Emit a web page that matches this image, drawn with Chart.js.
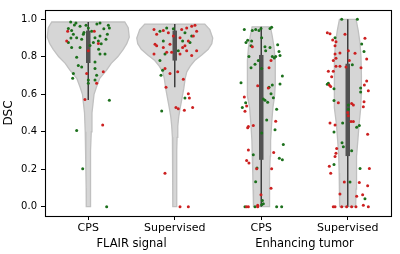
<!DOCTYPE html>
<html><head><meta charset="utf-8">
<script src="https://cdn.jsdelivr.net/npm/chart.js@4.4.0/dist/chart.umd.min.js"></script>
<style>html,body{margin:0;padding:0;background:#fff;}#wrap{width:400px;height:254px;position:relative;}</style>
</head><body><div id="wrap"><canvas id="c"></canvas></div>
<script>
const categories = ['CPS', 'Supervised', 'CPS', 'Supervised'];
const groups = ['FLAIR signal', 'Enhancing tumor'];
const groupPositions = [0.5, 2.5];
const yTicks = [0, 0.2, 0.4, 0.6, 0.8, 1.0];

// violin profiles: [DSC value, half-width in category units]
const violinFlairCPS = [[0,0.023],[0.1,0.024],[0.2,0.027],[0.3,0.028],[0.4,0.035],[0.5,0.043],[0.55,0.055],[0.6,0.067],[0.64,0.096],[0.685,0.133],[0.73,0.214],[0.765,0.266],[0.8,0.341],[0.84,0.405],[0.87,0.445],[0.905,0.474],[0.955,0.462],[0.986,0.422]];
const violinFlairSup = [[0,0.021],[0.1,0.022],[0.2,0.023],[0.3,0.024],[0.37,0.027],[0.43,0.035],[0.48,0.046],[0.53,0.064],[0.58,0.084],[0.63,0.104],[0.685,0.121],[0.72,0.139],[0.75,0.179],[0.78,0.231],[0.81,0.312],[0.84,0.387],[0.87,0.428],[0.9,0.439],[0.945,0.405],[0.975,0.347]];
const violinEnhCPS = [[0,0.090],[0.09,0.094],[0.18,0.098],[0.27,0.104],[0.355,0.108],[0.45,0.121],[0.53,0.135],[0.59,0.154],[0.65,0.162],[0.728,0.164],[0.78,0.160],[0.85,0.148],[0.91,0.127],[0.96,0.106]];
const violinEnhSup = [[0,0.092],[0.094,0.096],[0.18,0.099],[0.268,0.104],[0.35,0.116],[0.44,0.131],[0.528,0.150],[0.6,0.156],[0.7,0.158],[0.8,0.153],[0.876,0.141],[0.94,0.121],[1.0,0.096]];
const violins = [violinFlairCPS, violinFlairSup, violinEnhCPS, violinEnhSup];

// inner box: whisker low/high, IQR low/high
const whiskerLow = [0.57, 0.637, 0.0, 0.0];
const whiskerHigh = [0.986, 0.975, 0.96, 1.0];
const q1 = [0.767, 0.78, 0.25, 0.27];
const q3 = [0.94, 0.94, 0.81, 0.763];

// strip points: [jitter offset, DSC]
const flairCpsGreen = [[-0.203,0.986],[-0.142,0.980],[-0.095,0.963],[-0.230,0.951],[-0.192,0.940],[-0.026,0.968],[0.001,0.954],[0.040,0.937],[0.136,0.980],[0.232,0.968],[0.244,0.954],[0.221,0.920],[0.205,0.894],[0.136,0.911],[0.117,0.885],[0.078,0.902],[0.059,0.876],[-0.057,0.920],[-0.076,0.894],[-0.134,0.902],[-0.172,0.920],[-0.230,0.876],[-0.192,0.850],[-0.095,0.850],[-0.134,0.798],[-0.115,0.754],[-0.076,0.746],[0.078,0.772],[0.136,0.815],[0.194,0.815],[0.078,0.737],[0.097,0.702],[-0.172,0.711],[-0.180,0.685],[0.001,0.676],[0.078,0.676],[0.001,0.659],[0.244,0.568],[-0.134,0.407],[-0.064,0.202],[0.213,0.0],[-0.160,0.970],[0.100,0.975],[0.180,0.950],[-0.050,0.930],[0.150,0.870],[-0.200,0.900],[0.020,0.860],[0.120,0.840]];
const flairCpsRed = [[-0.249,0.885],[0.001,0.833],[0.070,0.937],[0.117,0.871],[-0.038,0.572],[0.167,0.436],[0.097,0.659],[-0.018,0.711],[0.174,0.720],[-0.238,0.937]];
const flairSupGreen = [[-0.171,0.937],[-0.093,0.954],[-0.016,0.950],[0.118,0.928],[0.196,0.911],[-0.132,0.885],[-0.113,0.815],[0.041,0.833],[0.091,0.885],[0.176,0.876],[-0.159,0.702],[-0.140,0.728],[-0.151,0.511],[0.118,0.580],[-0.171,0.780]];
const flairSupRed = [[-0.240,0.946],[-0.209,0.920],[-0.132,0.941],[-0.074,0.928],[-0.016,0.911],[0.061,0.902],[0.080,0.946],[0.138,0.954],[0.196,0.963],[0.234,0.968],[0.253,0.937],[0.215,0.911],[0.157,0.885],[0.118,0.859],[0.091,0.850],[0.138,0.833],[0.196,0.807],[0.253,0.833],[-0.228,0.867],[-0.209,0.859],[-0.132,0.850],[-0.093,0.824],[-0.036,0.824],[-0.055,0.867],[0.061,0.815],[-0.240,0.815],[-0.113,0.737],[-0.055,0.711],[0.034,0.720],[0.099,0.680],[-0.101,0.638],[0.014,0.529],[0.041,0.523],[0.111,0.515],[0.207,0.529],[0.157,0.603],[0.169,0.580],[-0.113,0.178],[0.061,0.0],[0.157,0.0]];
const enhCpsGreen = [[-0.196,0.946],[-0.064,0.946],[-0.026,0.941],[-0.003,0.951],[0.101,0.951],[0.120,0.958],[-0.103,0.941],[-0.157,0.888],[-0.176,0.876],[-0.111,0.885],[-0.118,0.859],[0.005,0.902],[0.043,0.854],[0.101,0.850],[0.051,0.833],[0.190,0.864],[0.205,0.829],[0.217,0.807],[0.167,0.802],[0.128,0.802],[-0.142,0.802],[-0.034,0.781],[-0.072,0.760],[-0.118,0.742],[0.005,0.737],[0.151,0.794],[0.244,0.697],[0.217,0.655],[0.128,0.650],[0.090,0.638],[0.140,0.581],[0.113,0.603],[0.024,0.575],[0.043,0.568],[0.074,0.558],[-0.234,0.662],[-0.180,0.555],[-0.219,0.529],[0.178,0.520],[0.063,0.463],[0.159,0.410],[0.005,0.393],[0.255,0.332],[0.209,0.259],[0.244,0.251],[-0.092,0.277],[-0.049,0.206],[-0.065,0.133],[0.013,0.033],[0.024,0.016],[0.005,0.010],[-0.072,0.0],[-0.188,0.0],[0.178,0.0],[0.236,0.0]];
const enhCpsRed = [[-0.103,0.854],[0.113,0.781],[0.090,0.742],[-0.041,0.645],[0.082,0.633],[-0.196,0.586],[-0.169,0.537],[-0.188,0.509],[-0.149,0.428],[-0.157,0.421],[-0.092,0.433],[0.167,0.456],[-0.149,0.303],[-0.169,0.247],[-0.142,0.233],[0.144,0.289],[0.120,0.202],[-0.053,0.202],[0.113,0.098],[-0.003,0.063],[-0.041,0.007],[-0.149,0.0],[-0.169,0.0],[-0.041,0.0]];
const enhSupGreen = [[-0.070,1.0],[0.111,1.0],[-0.147,0.902],[0.161,0.868],[0.188,0.828],[0.053,0.758],[-0.224,0.659],[-0.236,0.654],[-0.159,0.629],[0.149,0.633],[0.149,0.612],[-0.159,0.567],[0.007,0.543],[0.007,0.520],[-0.059,0.447],[0.103,0.424],[0.134,0.433],[-0.159,0.398],[-0.066,0.341],[-0.051,0.320],[0.045,0.299],[-0.159,0.225],[0.142,0.204],[0.026,0.132],[0.199,0.042]];
const enhSupRed = [[-0.236,0.928],[-0.205,0.923],[-0.174,0.890],[-0.136,0.880],[-0.032,0.920],[0.199,0.899],[-0.147,0.859],[-0.147,0.815],[-0.090,0.821],[0.007,0.833],[0.084,0.819],[-0.167,0.781],[-0.136,0.793],[0.018,0.781],[0.219,0.789],[-0.136,0.749],[-0.090,0.749],[-0.020,0.746],[0.153,0.741],[-0.224,0.723],[-0.167,0.723],[-0.186,0.694],[0.219,0.671],[0.192,0.650],[-0.213,0.650],[-0.197,0.641],[0.238,0.619],[-0.109,0.555],[0.188,0.560],[0.045,0.551],[0.065,0.543],[0.180,0.534],[-0.001,0.503],[0.007,0.485],[0.038,0.454],[0.065,0.454],[-0.205,0.447],[-0.147,0.436],[0.230,0.386],[-0.128,0.311],[-0.136,0.285],[-0.147,0.268],[-0.213,0.216],[-0.197,0.178],[0.250,0.204],[-0.040,0.132],[0.134,0.129],[-0.090,0.068],[0.103,0.056],[0.172,0.063],[0.230,0.112],[0.180,0.007],[0.238,0.0],[-0.167,0.0],[-0.147,0.0],[-0.070,0.0],[-0.013,0.0],[0.045,0.0],[0.095,0.0]];
const greens = [flairCpsGreen, flairSupGreen, enhCpsGreen, enhSupGreen];
const reds = [flairCpsRed, flairSupRed, enhCpsRed, enhSupRed];

const FONT = 'DejaVu Sans';
const datasets = [];
function strip(lists) {
  const out = [];
  lists.forEach((l, i) => l.forEach(p => out.push({x: i + p[0], y: p[1]})));
  return out;
}
datasets.push({type:'scatter', data: strip(reds), backgroundColor:'rgb(204,32,32)', borderWidth:0, pointRadius:1.5, order:0});
datasets.push({type:'scatter', data: strip(greens), backgroundColor:'rgb(28,112,28)', borderWidth:0, pointRadius:1.5, order:0});
violins.forEach((v, i) => {
  const right = v.map(p => ({x: i + p[1], y: p[0]}));
  const left = v.slice().reverse().map(p => ({x: i - p[1], y: p[0]}));
  const pts = right.concat(left);
  pts.push(pts[0]);
  datasets.push({type:'line', data: pts, fill:'shape', backgroundColor:'rgb(214,214,214)', borderColor:'rgb(192,192,192)', borderWidth:1.3, pointRadius:0, tension:0, order:3});
  datasets.push({type:'line', data:[{x:i,y:whiskerLow[i]},{x:i,y:whiskerHigh[i]}], borderColor:'rgb(62,62,62)', borderWidth:1.5, pointRadius:0, fill:false, order:2});
  datasets.push({type:'line', data:[{x:i,y:q1[i]},{x:i,y:q3[i]}], borderColor:'rgb(82,82,82)', borderWidth:4.5, borderCapStyle:'butt', pointRadius:0, fill:false, order:1});
});

const frame = {
  id: 'frame',
  afterDraw(chart) {
    const a = chart.chartArea, ctx = chart.ctx;
    ctx.save();
    ctx.strokeStyle = '#000';
    ctx.lineWidth = 1.1;
    ctx.strokeRect(Math.round(a.left) + 0.5, Math.round(a.top) + 0.5, Math.round(a.right - a.left), Math.round(a.bottom - a.top));
    ctx.restore();
  }
};

new Chart(document.getElementById('c'), {
  type: 'scatter',
  data: { datasets },
  plugins: [frame],
  options: {
    responsive: true, maintainAspectRatio: false, animation: false,
    layout: { padding: { left: 0, right: 9, top: 5, bottom: 0 } },
    plugins: { legend: { display: false }, tooltip: { enabled: false } },
    scales: {
      x: {
        type: 'linear', position: 'bottom', min: -0.5, max: 3.5, weight: 0,
        afterBuildTicks: s => { s.ticks = categories.map((c, i) => ({ value: i })); },
        afterFit: s => { s.height = 20; },
        ticks: { callback: v => categories[Math.round(v)], color: '#000', font: { family: FONT, size: 11 }, padding: 2, autoSkip: false, maxRotation: 0 },
        grid: { display: true, drawOnChartArea: false, drawTicks: true, tickLength: 4, color: '#000' },
        border: { display: false }
      },
      x2: {
        type: 'linear', position: 'bottom', min: -0.5, max: 3.5, weight: 1,
        afterBuildTicks: s => { s.ticks = groupPositions.map(p => ({ value: p })); },
        afterFit: s => { s.height = 18; },
        ticks: { callback: (v, i) => groups[i], color: '#000', font: { family: FONT, size: 11.5 }, padding: 1, autoSkip: false, maxRotation: 0 },
        grid: { display: false, drawTicks: false },
        border: { display: false }
      },
      y: {
        type: 'linear', min: -0.05, max: 1.05,
        afterBuildTicks: s => { s.ticks = yTicks.map(v => ({ value: v })); },
        afterFit: s => { s.width = 45; },
        ticks: { callback: v => v.toFixed(1), color: '#000', font: { family: FONT, size: 10 }, padding: 4 },
        grid: { display: true, drawOnChartArea: false, drawTicks: true, tickLength: 4, color: '#000' },
        border: { display: false },
        title: { display: true, text: 'DSC', color: '#000', font: { family: FONT, size: 12 }, padding: { top: 2, bottom: 2 } }
      }
    }
  }
});
</script></body></html>
